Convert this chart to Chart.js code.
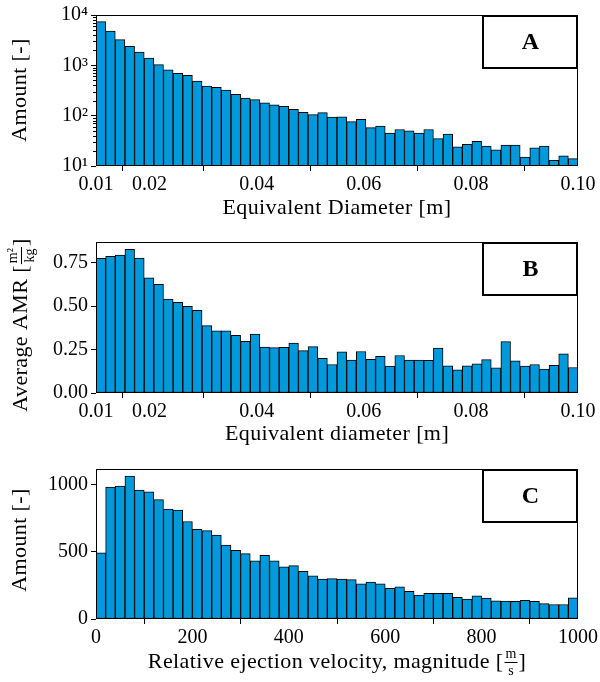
<!DOCTYPE html>
<html>
<head>
<meta charset="utf-8">
<script src="https://cdn.jsdelivr.net/npm/chart.js@4.4.1/dist/chart.umd.min.js"></script>
<style>
  html, body { margin: 0; padding: 0; background: #fff; }
  #wrap { position: relative; width: 600px; height: 682px; }
  canvas { position: absolute; left: 0; }
</style>
</head>
<body>
<div id="wrap">
  <canvas id="chartA" width="600" height="227" style="top:0"></canvas>
  <canvas id="chartB" width="600" height="227" style="top:227px"></canvas>
  <canvas id="chartC" width="600" height="228" style="top:454px"></canvas>
</div>
<script>
// histogram bins
const diameterStart = 0.01;
const diameterStep = 0.0018;
const velocityStart = 0;
const velocityStep = 20;

// A: amount per diameter bin (log axis)
const amountByDiameter = [
  7360, 4800, 3230, 2390, 1840, 1400, 1030, 818, 693, 632,
  488, 388, 365, 324, 266, 224, 208, 179, 165, 153,
  134, 117, 105, 115, 94, 95, 76, 85, 58, 62,
  45, 53, 50, 45, 53, 35, 43, 24, 27, 31,
  25, 21, 26, 26, 15, 23, 25, 13, 16, 14
];

// B: average AMR per diameter bin
const amrByDiameter = [
  0.776, 0.787, 0.794, 0.828, 0.777, 0.664, 0.626, 0.541, 0.522, 0.499,
  0.477, 0.388, 0.358, 0.358, 0.332, 0.298, 0.339, 0.265, 0.261, 0.263,
  0.287, 0.244, 0.267, 0.200, 0.164, 0.237, 0.190, 0.239, 0.194, 0.211,
  0.155, 0.216, 0.190, 0.190, 0.188, 0.259, 0.157, 0.134, 0.157, 0.168,
  0.192, 0.145, 0.296, 0.185, 0.155, 0.164, 0.138, 0.160, 0.225, 0.147
];

// C: amount per velocity bin
const amountByVelocity = [
  494, 984, 991, 1066, 960, 948, 890, 819, 812, 727,
  668, 659, 626, 551, 511, 487, 433, 475, 433, 388,
  398, 355, 322, 297, 301, 297, 294, 263, 275, 263,
  228, 240, 207, 179, 191, 191, 191, 162, 148, 172,
  155, 136, 134, 132, 139, 132, 115, 108, 108, 157
];

const diameterTicks = [0.01, 0.02, 0.04, 0.06, 0.08, 0.10];
const amountLogTicks = [10, 100, 1000, 10000];
const amrTicks = [0, 0.25, 0.5, 0.75];
const velocityTicks = [0, 200, 400, 600, 800, 1000];
const amountTicks = [0, 500, 1000];
const superDigits = { 1: '\u00B9', 2: '\u00B2', 3: '\u00B3', 4: '\u2074' };

const SERIF = '"Liberation Serif", "DejaVu Serif", serif';
const BAR_FILL = '#0099DB';

Chart.defaults.font.family = SERIF;
Chart.defaults.font.size = 20;
Chart.defaults.color = '#000';

// axis title with an optional stacked fraction for units
function drawRichLabel(ctx, parts, cx, cy, vertical) {
  ctx.save();
  ctx.translate(cx, cy);
  if (vertical) ctx.rotate(-Math.PI / 2);
  ctx.fillStyle = '#000';
  ctx.textBaseline = 'middle';
  const big = `22px ${SERIF}`, small = `14px ${SERIF}`;
  const widths = parts.map(p => {
    if (typeof p === 'string') {
      ctx.font = big; ctx.letterSpacing = '0.4px';
      return ctx.measureText(p).width;
    }
    ctx.font = small; ctx.letterSpacing = '0px';
    return Math.max(ctx.measureText(p.num).width, ctx.measureText(p.den).width) + 4;
  });
  let x = -widths.reduce((s, w) => s + w, 0) / 2;
  parts.forEach((p, i) => {
    if (typeof p === 'string') {
      ctx.font = big; ctx.letterSpacing = '0.4px'; ctx.textAlign = 'left';
      ctx.fillText(p, x, 0);
    } else {
      ctx.font = small; ctx.letterSpacing = '0px'; ctx.textAlign = 'center';
      const mid = x + widths[i] / 2;
      ctx.fillText(p.num, mid, -8);
      ctx.fillText(p.den, mid, 9);
      ctx.fillRect(x + 1, 0, widths[i] - 2, 1);
    }
    x += widths[i];
  });
  ctx.restore();
}

const panelDecor = {
  id: 'panelDecor',
  afterDraw(chart, args, o) {
    const ctx = chart.ctx;
    const a = chart.chartArea;
    ctx.save();
    ctx.strokeStyle = '#000';
    ctx.lineWidth = 1;
    ctx.strokeRect(a.left + 0.5, a.top + 0.5, a.right - a.left - 1, a.bottom - a.top - 1);

    // minor ticks on the log axis
    if (o.minorLog) {
      const y = chart.scales.y;
      ctx.beginPath();
      for (let d = 10; d < 10000; d *= 10) {
        for (let m = 2; m <= 9; m++) {
          const py = Math.round(y.getPixelForValue(m * d)) + 0.5;
          ctx.moveTo(a.left - 3, py);
          ctx.lineTo(a.left, py);
        }
      }
      ctx.stroke();
    }

    // panel letter box
    const bw = 95, bh = 52;
    ctx.lineWidth = 2;
    ctx.strokeRect(a.right - bw, a.top + 1, bw - 1, bh);
    ctx.font = `bold 24px ${SERIF}`;
    ctx.fillStyle = '#000';
    ctx.textAlign = 'center';
    ctx.textBaseline = 'middle';
    ctx.fillText(o.letter, a.right - bw / 2, a.top + bh / 2 + 2);
    ctx.restore();

    drawRichLabel(ctx, o.xTitle, (a.left + a.right) / 2, o.xTitleY, false);
    drawRichLabel(ctx, o.yTitle, o.yTitleX, o.yTitleY, true);
  }
};

function makePanel(id, p) {
  const data = p.values.map((v, i) => ({ x: p.start + p.step * (i + 0.5), y: v }));
  return new Chart(document.getElementById(id), {
    type: 'bar',
    data: {
      datasets: [{
        data: data,
        backgroundColor: BAR_FILL,
        borderColor: '#000',
        borderWidth: 1,
        borderSkipped: false,
        barPercentage: 1,
        categoryPercentage: 1
      }]
    },
    options: {
      responsive: false,
      animation: false,
      devicePixelRatio: 1,
      layout: { padding: { top: p.top, right: 22, left: 0, bottom: 0 } },
      plugins: {
        legend: { display: false },
        tooltip: { enabled: false },
        panelDecor: p.decor
      },
      scales: {
        x: {
          type: 'linear',
          offset: false,
          min: p.xMin,
          max: p.xMax,
          grid: { drawOnChartArea: false, drawTicks: true, tickLength: 5, color: '#000' },
          border: { display: false },
          ticks: { padding: 2, maxRotation: 0, autoSkip: false, callback: p.xFmt },
          afterBuildTicks: s => { s.ticks = p.xTicks.map(v => ({ value: v })); },
          afterFit: s => { s.height = p.xAxisHeight; }
        },
        y: {
          type: p.yType,
          min: p.yMin,
          max: p.yMax,
          grid: { drawOnChartArea: false, drawTicks: true, tickLength: 5, color: '#000' },
          border: { display: false },
          ticks: { padding: 3, autoSkip: false, callback: p.yFmt },
          afterBuildTicks: s => { s.ticks = p.yTicks.map(v => ({ value: v })); },
          afterFit: s => { s.width = 96; }
        }
      }
    },
    plugins: [panelDecor]
  });
}

makePanel('chartA', {
  values: amountByDiameter, start: diameterStart, step: diameterStep,
  xMin: 0.01, xMax: 0.1, xTicks: diameterTicks, xFmt: v => v.toFixed(2),
  yType: 'logarithmic', yMin: 10, yMax: 10000, yTicks: amountLogTicks,
  yFmt: v => '10' + superDigits[Math.round(Math.log10(v))],
  top: 15, xAxisHeight: 61,
  decor: {
    letter: 'A', minorLog: true,
    xTitle: ['Equivalent Diameter [m]'], xTitleY: 208,
    yTitle: ['Amount [-]'], yTitleX: 20, yTitleY: 90
  }
});

makePanel('chartB', {
  values: amrByDiameter, start: diameterStart, step: diameterStep,
  xMin: 0.01, xMax: 0.1, xTicks: diameterTicks, xFmt: v => v.toFixed(2),
  yType: 'linear', yMin: 0, yMax: 0.87, yTicks: amrTicks, yFmt: v => v.toFixed(2),
  top: 10, xAxisHeight: 61,
  decor: {
    letter: 'B',
    xTitle: ['Equivalent diameter [m]'], xTitleY: 207,
    yTitle: ['Average AMR [', { num: 'm\u00B2', den: 'kg' }, ']'], yTitleX: 21, yTitleY: 98
  }
});

makePanel('chartC', {
  values: amountByVelocity, start: velocityStart, step: velocityStep,
  xMin: 0, xMax: 1000, xTicks: velocityTicks, xFmt: v => String(v),
  yType: 'linear', yMin: 0, yMax: 1118, yTicks: amountTicks, yFmt: v => String(v),
  top: 7, xAxisHeight: 63,
  decor: {
    letter: 'C',
    xTitle: ['Relative ejection velocity, magnitude [', { num: 'm', den: 's' }, ']'], xTitleY: 208,
    yTitle: ['Amount [-]'], yTitleX: 20, yTitleY: 86
  }
});
</script>
</body>
</html>
